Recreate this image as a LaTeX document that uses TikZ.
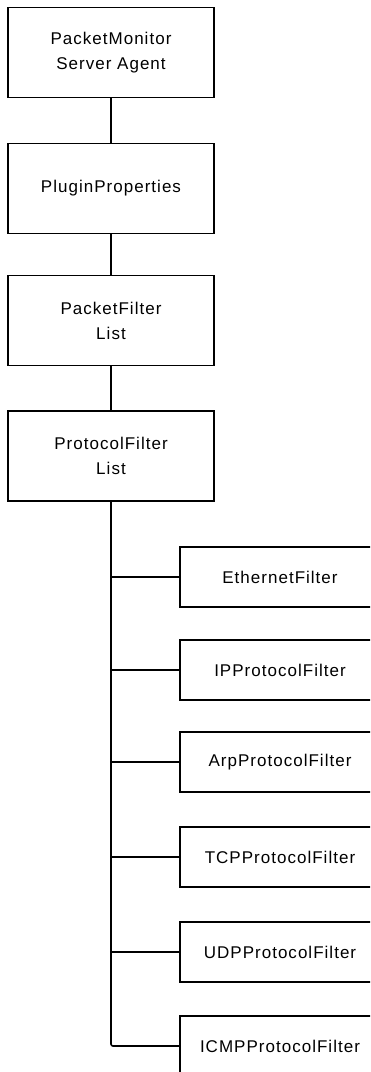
\documentclass[tikz,border=0pt]{standalone}
\usepackage{fontspec}
\setmainfont{Liberation Sans}[LetterSpace=6]
\usepackage{tikz}

\tikzset{
    mainbox/.style  = {draw, minimum width=206pt, minimum height=90pt, align=center,
                       font=\fontsize{17}{25}\selectfont},
    filterbox/.style = {draw, minimum width=200pt, minimum height=60pt,
                        font=\fontsize{17}{25}\selectfont}
}

\begin{document}
\begin{tikzpicture}[x=1pt, y=-1pt, line width=1.6pt]
            % fix size of picture
            \useasboundingbox (0, 0) rectangle (370, 1072);
            \clip (0, 0) rectangle (370, 1072);
            \fill[white] (0, 0) rectangle (370, 1072);

            % draw main chain of boxes
            \node[mainbox] (agent)  at (111,  52.5) {PacketMonitor\\Server Agent};
            \node[mainbox] (plugin) at (111, 188.5) {PluginProperties};
            \node[mainbox] (pktlist) at (111, 320.5) {PacketFilter\\List};
            \node[mainbox] (protlist) at (111, 456) {ProtocolFilter\\List};

            \draw (agent)  -- (plugin);
            \draw (plugin) -- (pktlist);
            \draw (pktlist) -- (protlist);

            % draw filter boxes (right and bottom edges run off the picture)
            \node[filterbox] (eth)  at (280,  577) {EthernetFilter};
            \node[filterbox] (ip)   at (280,  670) {IPProtocolFilter};
            \node[filterbox] (arp)  at (280,  762) {ArpProtocolFilter};
            \node[filterbox] (tcp)  at (280,  857) {TCPProtocolFilter};
            \node[filterbox] (udp)  at (280,  952) {UDPProtocolFilter};
            \node[filterbox] (icmp) at (280, 1046) {ICMPProtocolFilter};

            % draw trunk line and branches
            \draw[rounded corners=2pt] (protlist.south) |- (icmp.west);
            \foreach \f in {eth, ip, arp, tcp, udp}
                \draw (protlist.south |- \f.west) -- (\f.west);
        \end{tikzpicture}
\end{document}
